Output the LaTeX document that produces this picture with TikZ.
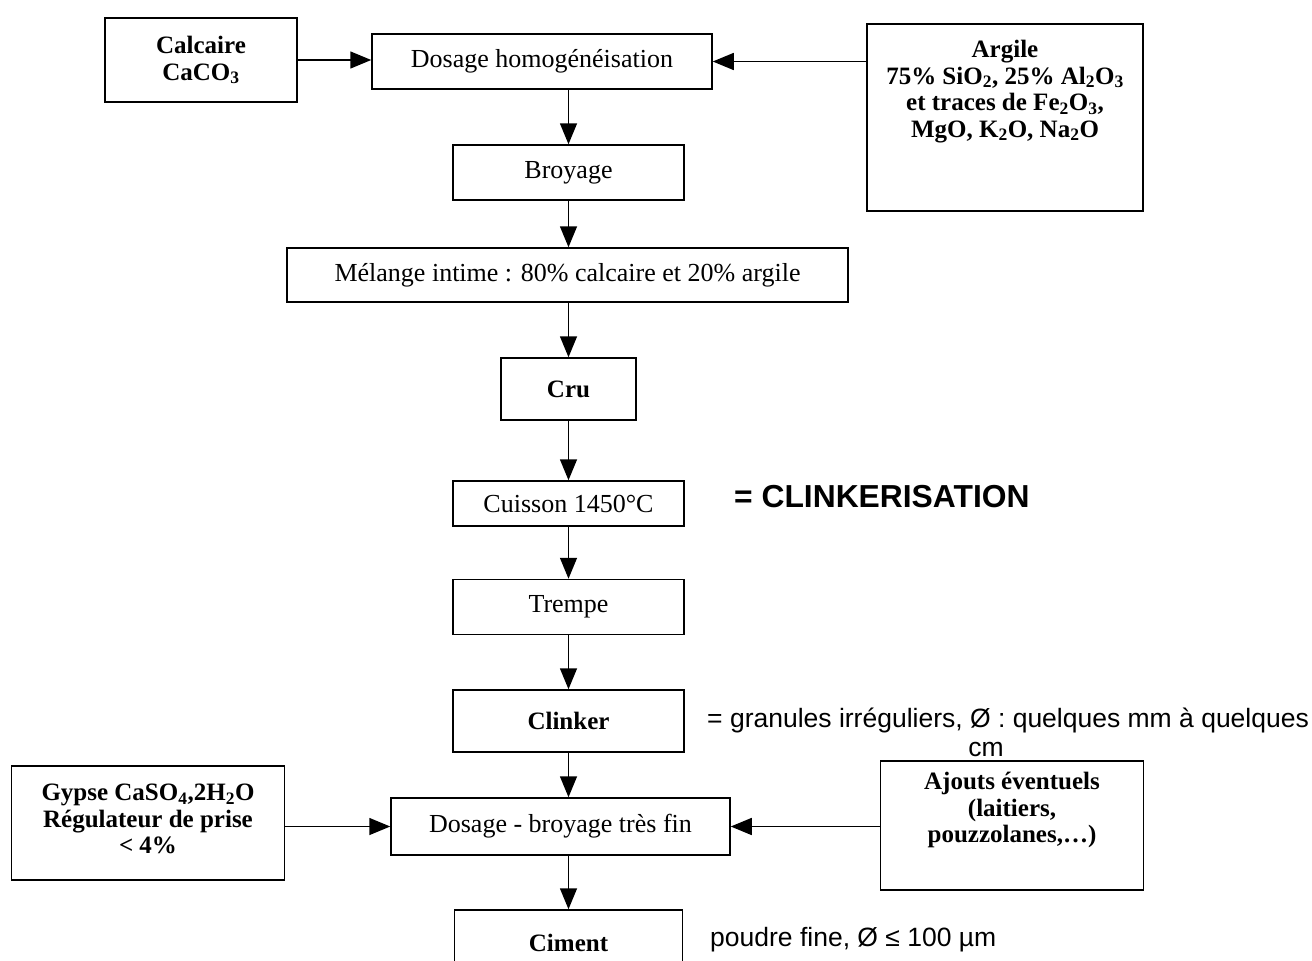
\documentclass[tikz,border=0pt]{standalone}
\usepackage{fontspec}
\setmainfont{Liberation Serif}
\newfontfamily\arialfont{Liberation Sans}
\usetikzlibrary{arrows.meta}
\begin{document}
\begin{tikzpicture}[x=1pt,y=-1pt,
  box/.style={draw, line width=1.5pt, inner sep=0pt, align=center, font=\fontsize{26}{27}\selectfont},
  bbox/.style={box, font=\fontsize{25}{27}\selectfont\bfseries},
  btxt/.style={inner sep=0pt, align=center, font=\fontsize{25}{26.5}\selectfont\bfseries},
  note/.style={inner sep=0pt, anchor=west, font=\arialfont\fontsize{26.5}{30}\selectfont},
  arr/.style={-{Triangle[length=21pt,width=17pt]}, line width=1.5pt}]
\useasboundingbox (0,0) rectangle (1312,961);
% boxes
\node[bbox, minimum width=192pt, minimum height=84pt] (calcaire) at (201,60) {Calcaire\\CaCO\textsubscript{3}};
\node[box, minimum width=340pt, minimum height=55pt] (dosage) at (542,61.5) {Dosage homogénéisation};
\node[box, minimum width=276pt, minimum height=187pt] (argile) at (1005,117.5) {};
\node[btxt, anchor=north] (argiletxt) at (1005,40) {Argile\\75\% SiO\textsubscript{2}, 25\% Al\textsubscript{2}O\textsubscript{3}\\et traces de Fe\textsubscript{2}O\textsubscript{3},\\MgO, K\textsubscript{2}O, Na\textsubscript{2}O};
\node[box, minimum width=231pt, minimum height=55pt] (broyage) at (568.5,172.5) {Broyage};
\node[box, minimum width=561pt, minimum height=54pt] (melange) at (567.5,275) {Mélange intime : 80\% calcaire et 20\% argile};
\node[bbox, minimum width=135pt, minimum height=62pt] (cru) at (568.5,389) {Cru};
\node[box, minimum width=231pt, minimum height=45pt] (cuisson) at (568.5,503.5) {Cuisson 1450°C};
\node[box, minimum width=231pt, minimum height=55pt] (trempe) at (568.5,607) {Trempe};
\node[bbox, minimum width=231pt, minimum height=62pt] (clinker) at (568.5,721) {Clinker};
\node[box, minimum width=339pt, minimum height=57pt] (db) at (560.5,826.5) {Dosage - broyage très fin};
\node[box, minimum width=273pt, minimum height=114pt] (gypse) at (148,823) {};
\node[btxt] (gypsetxt) at (148,819) {Gypse CaSO\textsubscript{4},2H\textsubscript{2}O\\Régulateur de prise\\\textless{} 4\%};
\node[box, minimum width=263pt, minimum height=129pt] (ajouts) at (1012,825.5) {};
\node[btxt, anchor=north] (ajoutstxt) at (1012,772) {Ajouts éventuels\\(laitiers,\\pouzzolanes,…)};
\node[bbox, minimum width=228pt, minimum height=66pt] (ciment) at (568.5,943) {Ciment};
% notes
\node[note, font=\arialfont\bfseries\fontsize{31.8}{36}\selectfont] (clk) at (734,497) {= CLINKERISATION};
\node[note] (gran) at (707,720) {= granules irréguliers, Ø : quelques mm à quelques};
\node[inner sep=0pt, font=\arialfont\fontsize{26.5}{30}\selectfont] (cm) at (986,749) {cm};
\node[note] (poudre) at (710,940) {poudre fine, Ø ≤ 100 µm};
% connectors
\draw[arr] (calcaire.east) -- (calcaire.east -| dosage.west);
\draw[arr] (argile.west |- dosage) -- (dosage.east);
\draw[arr] (dosage.south -| broyage.north) -- (broyage.north);
\draw[arr] (broyage.south) -- (broyage.south |- melange.north);
\draw[arr] (melange.south -| cru.north) -- (cru.north);
\draw[arr] (cru.south) -- (cuisson.north);
\draw[arr] (cuisson.south) -- (trempe.north);
\draw[arr] (trempe.south) -- (clinker.north);
\draw[arr] (clinker.south) -- (clinker.south |- db.north);
\draw[arr] (db.south -| ciment.north) -- (ciment.north);
\draw[arr] (gypse.east |- db) -- (db.west);
\draw[arr] (ajouts.west |- db) -- (db.east);
\end{tikzpicture}
\end{document}
